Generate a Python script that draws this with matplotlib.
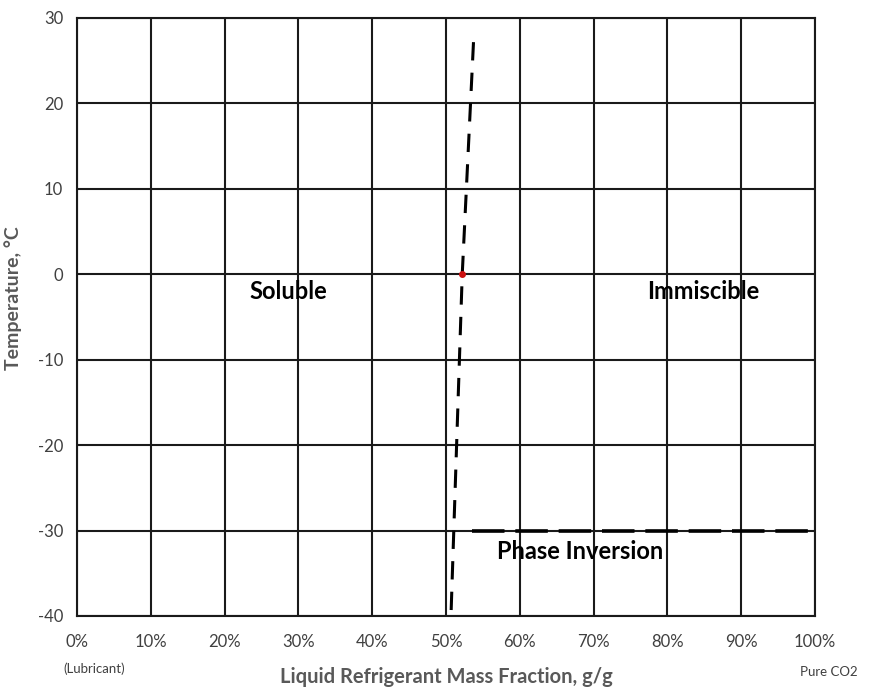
import matplotlib
matplotlib.use("Agg")
import matplotlib.pyplot as plt
from matplotlib.ticker import FuncFormatter

plt.rcParams['font.family'] = ['Lato', 'DejaVu Sans']
plt.rcParams['axes.unicode_minus'] = False

# Miscibility boundary (mass fraction %, temperature °C)
boundary_x = [50.7, 52.2, 53.8]
boundary_y = [-39.3, 0.0, 28.5]
# Measured point on the boundary
point_x = [52.2]
point_y = [0.0]
# Phase inversion line
inversion_x = [53.5, 100.0]
inversion_y = [-30.0, -30.0]

x_ticks = [0, 10, 20, 30, 40, 50, 60, 70, 80, 90, 100]
y_ticks = [-40, -30, -20, -10, 0, 10, 20, 30]

region_labels = ["Soluble", "Immiscible", "Phase Inversion"]
region_x = [28.6, 84.8, 68.2]
region_y = [-2.0, -2.0, -32.5]

fig = plt.figure(figsize=(8.71, 6.91), dpi=100)
ax = fig.add_axes([77 / 871, 75 / 691, 738 / 871, 598 / 691])

ax.set_xlim(0, 100)
ax.set_ylim(-40, 30)
ax.set_xticks(x_ticks)
ax.set_yticks(y_ticks)
ax.xaxis.set_major_formatter(FuncFormatter(lambda v, p: f"{v:.0f}%"))
ax.grid(True, color='#1a1a1a', linewidth=1.5)
ax.set_axisbelow(True)
for s in ax.spines.values():
    s.set_color('#1a1a1a')
    s.set_linewidth(1.5)
ax.tick_params(length=0, labelsize=12, colors='#404040')
ax.tick_params(axis='x', pad=13)
ax.tick_params(axis='y', pad=10)

ax.plot(boundary_x, boundary_y, color='black', linewidth=2.2,
        dashes=(6, 4), zorder=3)
ax.plot(inversion_x, inversion_y, color='black', linewidth=2.6,
        dashes=(9, 3), zorder=3)
ax.plot(point_x, point_y, 'o', color='#cc1111', markersize=4, zorder=4)

for lab, xx, yy in zip(region_labels, region_x, region_y):
    ax.text(xx, yy, lab, ha='center', va='center', fontsize=17,
            fontweight='bold', color='black')

ax.set_xlabel("Liquid Refrigerant Mass Fraction, g/g", fontsize=14.5,
              fontweight='bold', color='#595959')
ax.xaxis.set_label_coords(0.5, -0.085)
ax.set_ylabel("Temperature, °C", fontsize=14, fontweight='bold',
              color='#595959')
ax.yaxis.set_label_coords(-0.0745, 0.532)

ax.text(2.3, -46.2, "(Lubricant)", ha='center', va='center', fontsize=9.5,
        color='#404040', clip_on=False)
ax.text(101.9, -46.5, "Pure CO2", ha='center', va='center', fontsize=9.5,
        color='#404040', clip_on=False)

fig.savefig("out.png", dpi=100, facecolor='white')
